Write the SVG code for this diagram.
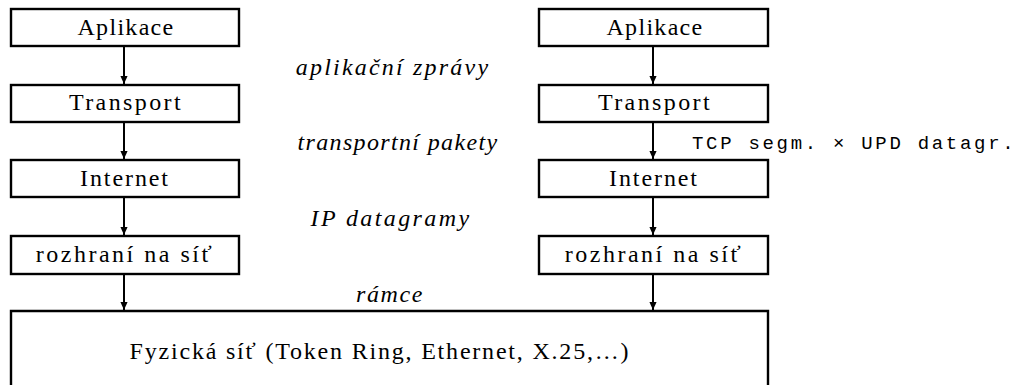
<svg xmlns="http://www.w3.org/2000/svg" width="1035" height="385" viewBox="0 0 1035 385">
  <style>
    .box { fill: #fff; stroke: #000; stroke-width: 2.4; }
    .lbl { fill: #000; text-anchor: middle; }
    .it { fill: #000; text-anchor: middle; }
    .mono { fill: #000; }
    .conn { stroke: #000; stroke-width: 2; fill: none; marker-end: url(#arrow); }
  </style>
  <defs>
    <marker id="arrow" markerUnits="userSpaceOnUse" markerWidth="8" markerHeight="10" refX="9" refY="4" orient="auto" viewBox="0 0 9 8">
      <path d="M0,0 L9,4 L0,8 Z" fill="#000"/>
    </marker>
  </defs>
  <rect width="1035" height="385" fill="#fff"/>

  <!-- left stack -->
  <g id="app-left">
    <rect class="box" x="11" y="9" width="228" height="37"/>
    <text class="lbl" font-family="Liberation Serif" font-size="24" x="126" y="35" letter-spacing="1.3">Aplikace</text>
  </g>
  <g id="transport-left">
    <rect class="box" x="11" y="85" width="228" height="37"/>
    <text class="lbl" font-family="Liberation Serif" font-size="24" x="126" y="110" letter-spacing="2.4">Transport</text>
  </g>
  <g id="internet-left">
    <rect class="box" x="11" y="160" width="228" height="37"/>
    <text class="lbl" font-family="Liberation Serif" font-size="24" x="125" y="186" letter-spacing="1.9">Internet</text>
  </g>
  <g id="iface-left">
    <rect class="box" x="11" y="236" width="228" height="38"/>
    <text class="lbl" font-family="Liberation Serif" font-size="24" x="125" y="262" letter-spacing="2.5">rozhraní na síť</text>
  </g>

  <!-- right stack -->
  <g id="app-right">
    <rect class="box" x="539" y="9" width="229" height="37"/>
    <text class="lbl" font-family="Liberation Serif" font-size="24" x="655" y="35" letter-spacing="1.3">Aplikace</text>
  </g>
  <g id="transport-right">
    <rect class="box" x="539" y="85" width="229" height="37"/>
    <text class="lbl" font-family="Liberation Serif" font-size="24" x="655" y="110" letter-spacing="2.4">Transport</text>
  </g>
  <g id="internet-right">
    <rect class="box" x="539" y="160" width="229" height="37"/>
    <text class="lbl" font-family="Liberation Serif" font-size="24" x="654" y="186" letter-spacing="1.9">Internet</text>
  </g>
  <g id="iface-right">
    <rect class="box" x="539" y="236" width="229" height="38"/>
    <text class="lbl" font-family="Liberation Serif" font-size="24" x="654" y="262" letter-spacing="2.5">rozhraní na síť</text>
  </g>

  <!-- physical network, open at the bottom -->
  <g id="physical">
    <path d="M11,390 V311 H768 V390" fill="none" stroke="#000" stroke-width="2.4"/>
    <text class="lbl" font-family="Liberation Serif" font-size="24" x="380" y="359" letter-spacing="1.8">Fyzická síť (Token Ring, Ethernet, X.25,…)</text>
  </g>

  <!-- data unit names between layers -->
  <g id="labels">
    <text class="it" font-family="Liberation Serif" font-style="italic" font-size="24" x="393" y="75" letter-spacing="2.2">aplikační zprávy</text>
    <text class="it" font-family="Liberation Serif" font-style="italic" font-size="24" x="398" y="150" letter-spacing="1.35">transportní pakety</text>
    <text class="it" font-family="Liberation Serif" font-style="italic" font-size="24" x="391" y="226" letter-spacing="2.4">IP datagramy</text>
    <text class="it" font-family="Liberation Serif" font-style="italic" font-size="24" x="390" y="302" letter-spacing="1.6">rámce</text>
    <text class="mono" font-family="Liberation Mono" font-size="19" x="692" y="149" letter-spacing="2.7">TCP segm. × UPD datagr.</text>
  </g>

  <g id="connectors">
    <line class="conn" x1="124" y1="47" x2="124" y2="84"/>
    <line class="conn" x1="124" y1="123" x2="124" y2="159"/>
    <line class="conn" x1="124" y1="198" x2="124" y2="235"/>
    <line class="conn" x1="124" y1="275" x2="124" y2="310"/>
    <line class="conn" x1="653" y1="47" x2="653" y2="84"/>
    <line class="conn" x1="653" y1="123" x2="653" y2="159"/>
    <line class="conn" x1="653" y1="198" x2="653" y2="235"/>
    <line class="conn" x1="653" y1="275" x2="653" y2="310"/>
  </g>
</svg>
